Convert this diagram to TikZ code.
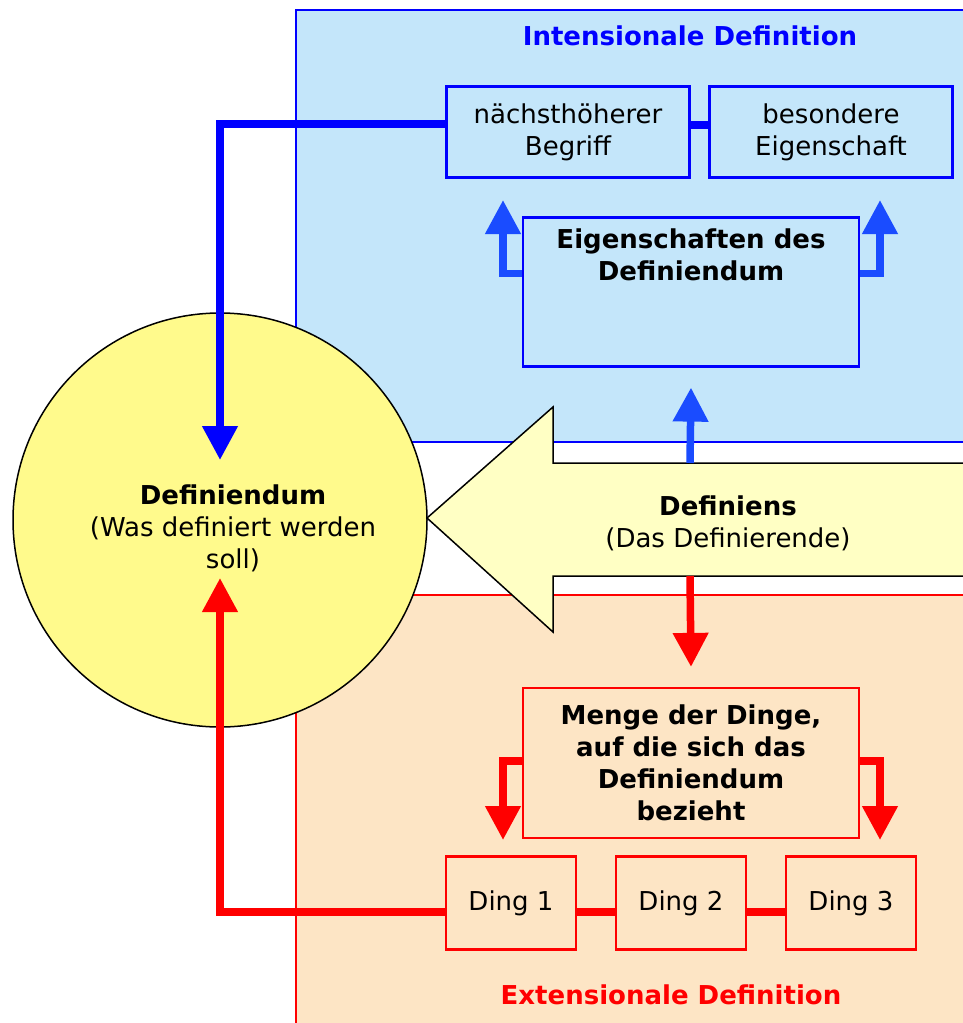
\documentclass[tikz,border=0pt]{standalone}
\usepackage{fontspec}
\setmainfont{DejaVu Sans}
\usepackage{tikz}
\usetikzlibrary{arrows.meta, positioning, calc}
\definecolor{intblue}{HTML}{C4E6FA}
\definecolor{lineblue}{HTML}{0000FF}
\definecolor{arrowblue}{HTML}{1A4CFF}
\definecolor{extpeach}{HTML}{FDE5C5}
\definecolor{linered}{HTML}{FF0000}
\definecolor{circyellow}{HTML}{FFFA8C}
\definecolor{arrowyellow}{HTML}{FFFFC4}
\newcommand{\boxfont}{\fontsize{26}{32}\selectfont}
\tikzset{
  bluebox/.style={draw=lineblue, line width=2.2pt, fill=intblue, inner sep=0pt,
    minimum width=243pt, minimum height=91pt, align=center, font=\boxfont},
  redbox/.style={draw=linered, line width=2.2pt, fill=extpeach, inner sep=0pt,
    align=center, font=\boxfont},
  bluelink/.style={lineblue, line width=7.5pt},
  redlink/.style={linered, line width=7.5pt},
  bluearrow/.style={arrowblue, line width=7.5pt, -{Triangle[width=34pt,length=34pt]}},
  redarrow/.style={linered, line width=7.5pt, -{Triangle[width=34pt,length=34pt]}}
}

\begin{document}
\begin{tikzpicture}[x=1pt, y=-1pt]
  \useasboundingbox (0,0) rectangle (963,1023);
  % Bereiche
  \fill[intblue] (296,10) rectangle (975,442);
  \draw[lineblue, line width=2pt] (975,10) -- (296,10) -- (296,442) -- (975,442);
  \fill[extpeach] (296,595) rectangle (975,1035);
  \draw[linered, line width=2pt] (975,595) -- (296,595) -- (296,1035);
  \node[font=\boxfont\bfseries, text=lineblue] (inttitle) at (690,36) {Intensionale Definition};
  \node[font=\boxfont\bfseries, text=linered] (exttitle) at (671,995) {Extensionale Definition};

  % Definiendum
  \node[circle, draw=black, line width=1.5pt, fill=circyellow, minimum size=414pt,
    inner sep=0pt,
    label={[align=center, font=\boxfont, xshift=13pt, yshift=-8pt]center:{\textbf{Definiendum}\\(Was definiert werden\\soll)}}]
    (defdum) at (220,520) {};

  % Definiens-Pfeil
  \filldraw[fill=arrowyellow, draw=black, line width=1.5pt]
    (427,518) -- (553,407) -- (553,463) -- (975,463) -- (975,576)
    -- (553,576) -- (553,632) -- cycle;
  \node[font=\boxfont, align=center] (defiens) at (728,523)
    {\textbf{Definiens}\\(Das Definierende)};
  \coordinate (shaftT) at (690,463);
  \coordinate (shaftB) at (690,576);

  % intensional
  \node[bluebox] (nhb) at (568,132) {nächsthöherer\\Begriff};
  \node[bluebox] (bes) at (831,132) {besondere\\Eigenschaft};
  \node[bluebox, minimum width=336pt, minimum height=149pt,
    label={[font=\boxfont\bfseries, align=center, anchor=north, yshift=-9pt]north:{Eigenschaften des\\Definiendum}}]
    (eig) at (691,292) {};

  % extensional
  \node[redbox, minimum width=336pt, minimum height=150pt, font=\boxfont\bfseries]
    (menge) at (691,763) {Menge der Dinge,\\auf die sich das\\Definiendum\\bezieht};
  \node[redbox, minimum width=130pt, minimum height=93pt] (ding1) at (511,903) {Ding 1};
  \node[redbox, minimum width=130pt, minimum height=93pt] (ding2) at (681,903) {Ding 2};
  \node[redbox, minimum width=130pt, minimum height=93pt] (ding3) at (851,903) {Ding 3};

  % Verbindungen
  \coordinate (tipBlue) at (220,460);
  \coordinate (tipRed) at (220,578);
  \coordinate (tipEL) at (503,200);
  \coordinate (tipER) at (880,200);
  \coordinate (tipML) at (503,840);
  \coordinate (tipMR) at (880,840);
  \draw[bluelink] ([yshift=7pt]nhb.east) -- ([yshift=7pt]bes.west);
  \draw[bluearrow, lineblue] ([yshift=8pt]nhb.west) -| (tipBlue);
  \draw[bluearrow] ([yshift=-57pt]eig.north west) -| (tipEL);
  \draw[bluearrow] ([yshift=-57pt]eig.north east) -| (tipER);
  \draw[bluearrow] (shaftT) -- ([yshift=-20pt]eig.south);
  \draw[redarrow] (shaftB) -- ([yshift=20pt]menge.north);
  \draw[redarrow] ([yshift=-74pt]menge.north west) -| (tipML);
  \draw[redarrow] ([yshift=-74pt]menge.north east) -| (tipMR);
  \draw[redlink] ([yshift=-9pt]ding1.east) -- ([yshift=-9pt]ding2.west);
  \draw[redlink] ([yshift=-9pt]ding2.east) -- ([yshift=-9pt]ding3.west);
  \draw[redarrow] ([yshift=-9pt]ding1.west) -| (tipRed);
\end{tikzpicture}
\end{document}
